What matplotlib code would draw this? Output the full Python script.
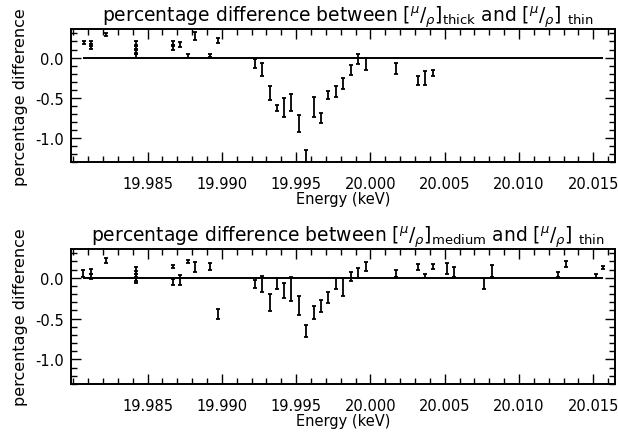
import numpy as np
import matplotlib
matplotlib.use('Agg')
import matplotlib.pyplot as plt
from matplotlib.ticker import MultipleLocator, FixedLocator, FormatStrFormatter

plt.rcParams['font.family'] = 'DejaVu Sans'
plt.rcParams['mathtext.fontset'] = 'dejavusans'

# thick vs thin
E_thick = [19.98073, 19.98120, 19.98120, 19.98219, 19.98420, 19.98420, 19.98420, 19.98420,
           19.98669, 19.98669, 19.98719, 19.98770, 19.98822, 19.98920, 19.98972,
           19.99223, 19.99272, 19.99324, 19.99373, 19.99418, 19.99466, 19.99519, 19.99569,
           19.99620, 19.99667, 19.99717, 19.99768, 19.99817, 19.99867, 19.99918, 19.99968,
           20.00170, 20.00318, 20.00367, 20.00419]
d_thick = [0.19, 0.17, 0.14, 0.284, 0.18, 0.13, 0.08, 0.03,
           0.17, 0.13, 0.164, 0.02, 0.27, 0.03, 0.216,
           -0.068, -0.144, -0.44, -0.628, -0.622, -0.56, -0.82, -1.22,
           -0.617, -0.75, -0.465, -0.418, -0.32, -0.155, -0.017, -0.083,
           -0.138, -0.284, -0.255, -0.19]
err_thick = [0.02, 0.03, 0.03, 0.02, 0.03, 0.03, 0.03, 0.03,
             0.03, 0.03, 0.03, 0.02, 0.05, 0.02, 0.03,
             0.056, 0.082, 0.088, 0.035, 0.119, 0.107, 0.109, 0.076,
             0.123, 0.06, 0.053, 0.068, 0.072, 0.062, 0.066, 0.072,
             0.068, 0.05, 0.088, 0.037]

# medium vs thin
E_med = [19.98068, 19.98120, 19.98120, 19.98219, 19.98420, 19.98420, 19.98420, 19.98420,
         19.98669, 19.98669, 19.98719, 19.98770, 19.98822, 19.98920, 19.98972,
         19.99223, 19.99272, 19.99324, 19.99373, 19.99418, 19.99466, 19.99519, 19.99569,
         19.99620, 19.99667, 19.99717, 19.99768, 19.99817, 19.99867, 19.99918, 19.99968,
         20.00170, 20.00318, 20.00367, 20.00419, 20.00517, 20.00565, 20.00764, 20.00816,
         20.01264, 20.01314, 20.01516, 20.01563]
d_med = [0.053, 0.08, 0.01, 0.207, 0.09, 0.04, 0.0, -0.03,
         0.14, -0.05, -0.03, 0.2, 0.136, 0.136, -0.44,
         -0.075, -0.075, -0.30, -0.07, -0.153, -0.136, -0.344, -0.656,
         -0.424, -0.348, -0.24, -0.07, -0.116, 0.018, 0.053, 0.142,
         0.053, 0.13, 0.022, 0.133, 0.11, 0.074, -0.07, 0.084,
         0.035, 0.164, 0.025, 0.127]
err_med = [0.04, 0.03, 0.03, 0.03, 0.04, 0.04, 0.04, 0.04,
           0.02, 0.04, 0.06, 0.02, 0.06, 0.04, 0.06,
           0.045, 0.097, 0.107, 0.062, 0.09, 0.148, 0.117, 0.072,
           0.082, 0.072, 0.068, 0.062, 0.107, 0.056, 0.062, 0.056,
           0.04, 0.035, 0.03, 0.03, 0.066, 0.062, 0.062, 0.072,
           0.03, 0.035, 0.025, 0.02]

xticks = [19.985, 19.990, 19.995, 20.000, 20.005, 20.010, 20.015]

titles = [r'percentage difference between $[^{\mu}/_{\rho}]_{\mathrm{thick}}$ and $[^{\mu}/_{\rho}]\ _{\mathrm{thin}}$',
          r'percentage difference between $[^{\mu}/_{\rho}]_{\mathrm{medium}}$ and $[^{\mu}/_{\rho}]\ _{\mathrm{thin}}$']

fig = plt.figure(figsize=(6.18, 4.35), dpi=100)
ax1 = fig.add_axes([0.1144, 0.6246, 0.8807, 0.3064])
ax2 = fig.add_axes([0.1144, 0.1149, 0.8807, 0.3110])

line_lo, line_hi = min(E_med), max(E_med)

for ax, E, d, err, title in [(ax1, E_thick, d_thick, err_thick, titles[0]),
                             (ax2, E_med, d_med, err_med, titles[1])]:
    ax.hlines(0, line_lo, line_hi, color='black', lw=1.4)
    ax.errorbar(E, d, yerr=err, fmt='none', ecolor='black', elinewidth=1.3,
                capsize=1.6, capthick=1.3)
    ax.set_xlim(19.97983, 20.01646)
    ax.set_ylim(-1.30, 0.355)
    ax.xaxis.set_major_locator(FixedLocator(xticks))
    ax.xaxis.set_minor_locator(MultipleLocator(0.001))
    ax.yaxis.set_major_locator(MultipleLocator(0.5))
    ax.yaxis.set_minor_locator(MultipleLocator(0.1))
    ax.xaxis.set_major_formatter(FormatStrFormatter('%.3f'))
    ax.yaxis.set_major_formatter(FormatStrFormatter('%.1f'))
    ax.tick_params(which='both', direction='in', top=True, right=True, labelsize=10.5, width=1.0)
    ax.tick_params(which='major', length=7)
    ax.tick_params(which='minor', length=4)
    ax.tick_params(axis='x', which='major', pad=10)
    ax.tick_params(axis='y', which='major', pad=5)
    for s in ax.spines.values():
        s.set_linewidth(1.4)
    ax.set_xlabel('Energy (keV)', fontsize=10.5, labelpad=0)
    ax.set_ylabel('percentage difference', fontsize=11.5, labelpad=5)
    ax.set_title(title, fontsize=13.5, pad=3, x=0.51)

fig.savefig('out.png', dpi=100)
